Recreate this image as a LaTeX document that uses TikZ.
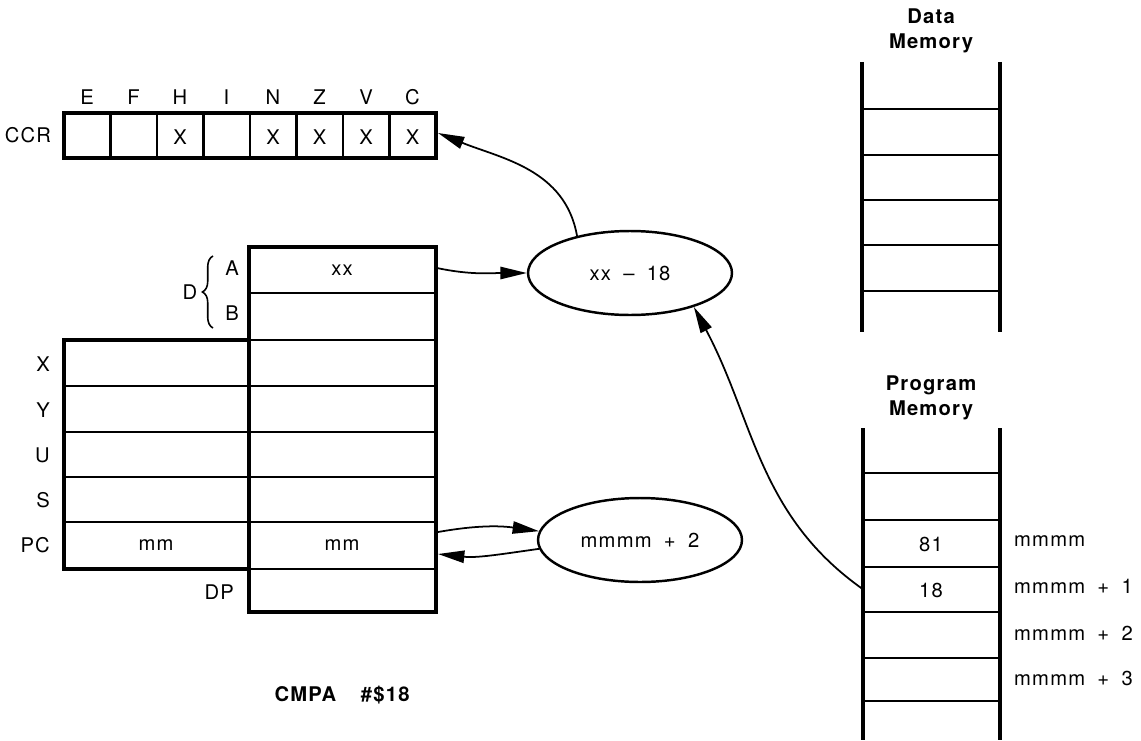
\documentclass[tikz,border=0pt]{standalone}
\usepackage{fontspec}
\setmainfont{TeX Gyre Heros}[LetterSpace=6,WordSpace=1.8]
\usetikzlibrary{shapes.geometric,arrows.meta,decorations.pathreplacing}
\tikzset{
  heavy/.style={line width=2.2pt},
  divide/.style={line width=1.5pt},
  light/.style={line width=1pt},
  alu/.style={ellipse,draw,line width=1.4pt,minimum width=4.08cm,minimum height=1.68cm,inner sep=0pt},
  flow/.style={line width=1pt,-{Triangle[length=15pt,width=7pt]}},
  title/.style={font=\bfseries\fontsize{11.5}{14.5}\selectfont,align=center},
}
\begin{document}
\begin{tikzpicture}[x=.02cm,y=.02cm,font=\fontsize{11.5}{13}\selectfont]
  \useasboundingbox (0,0) rectangle (1141,-740);
  % condition code register
  \node (ccr) at (28,-135) {CCR};
  \foreach \k in {1,...,7} \draw[divide] (64+46.5*\k,-113) -- (64+46.5*\k,-158);
  \draw[heavy] (64,-113) rectangle (436,-158);
  \foreach \flag [count=\k from 0] in {E,F,H,I,N,Z,V,C}
    \node (flag\flag) at (87+46.5*\k,-97) {\flag};
  \foreach \k in {2,4,5,6,7}
    \node (set\k) at (87+46.5*\k,-137) {X};
  % registers
  \foreach \y in {293,340,569} \draw[light] (249,-\y) -- (436,-\y);
  \foreach \y in {386,432,477,522} \draw[light] (64,-\y) -- (436,-\y);
  \draw[heavy] (249,-247) rectangle (436,-612);
  \draw[heavy] (249,-340) -- (64,-340) -- (64,-569) -- (249,-569);
  \node (regD) at (190,-292) {D};
  \draw[decorate,decoration={brace,amplitude=6pt},line width=.9pt] (213,-328) -- (213,-256);
  \node (regA) at (232,-268) {A};
  \node (regB) at (232,-313) {B};
  \node[anchor=east] (regX) at (56,-364) {X};
  \node[anchor=east] (regY) at (56,-410) {Y};
  \node[anchor=east] (regU) at (56,-455) {U};
  \node[anchor=east] (regS) at (56,-500) {S};
  \node[anchor=east] (regPC) at (56,-545) {PC};
  \node[anchor=east] (regDP) at (240,-592) {DP};
  \node (accA) at (342,-270) {xx};
  \node (pcHi) at (156,-545) {mm};
  \node (pcLo) at (342,-545) {mm};
  % operations
  \node[alu] (sub) at (630,-273) {xx -- 18};
  \node[alu] (inc) at (640,-540) {mmmm + 2};
  % memories
  \node[title] (dmem) at (931,-31) {Data\\Memory};
  \draw[heavy] (862,-62) -- (862,-332) (1000,-62) -- (1000,-332);
  \foreach \y in {109,155,200,245,291} \draw[light] (862,-\y) -- (1000,-\y);
  \node[title] (pmem) at (931,-398) {Program\\Memory};
  \foreach \y in {473,520,567,612,658,701} \draw[light] (863,-\y) -- (1000,-\y);
  \draw[heavy] (863,-428) -- (863,-740) (1000,-428) -- (1000,-740);
  \node (opcode) at (931,-544) {81};
  \node (operand) at (931,-590) {18};
  \foreach \t/\y in {mmmm/541,mmmm + 1/586,mmmm + 2/633,mmmm + 3/678}
    \node[anchor=west] at (1008,-\y) {\t};
  \node[font=\bfseries\fontsize{11.5}{13}\selectfont] (instr) at (342,-695) {CMPA\hspace{14pt}\#\$18};
  % data paths
  \coordinate (aOut) at (437,-268);
  \coordinate (ccrIn) at (438,-133);
  \coordinate (pcOut) at (438,-532);
  \coordinate (pcIn) at (438,-554);
  \coordinate (pmOut) at (864,-590);
  \draw[flow] (aOut) to[out=-12,in=180] (sub.west);
  \draw[flow] (sub.145) to[out=100,in=-22] (ccrIn);
  \draw[flow] (pmOut) to[out=145,in=-62] (sub.-28);
  \draw[flow] (pcOut) to[out=10,in=172] (inc.175);
  \draw[flow] (inc.185) to[out=188,in=-6] (pcIn);
\end{tikzpicture}
\end{document}
